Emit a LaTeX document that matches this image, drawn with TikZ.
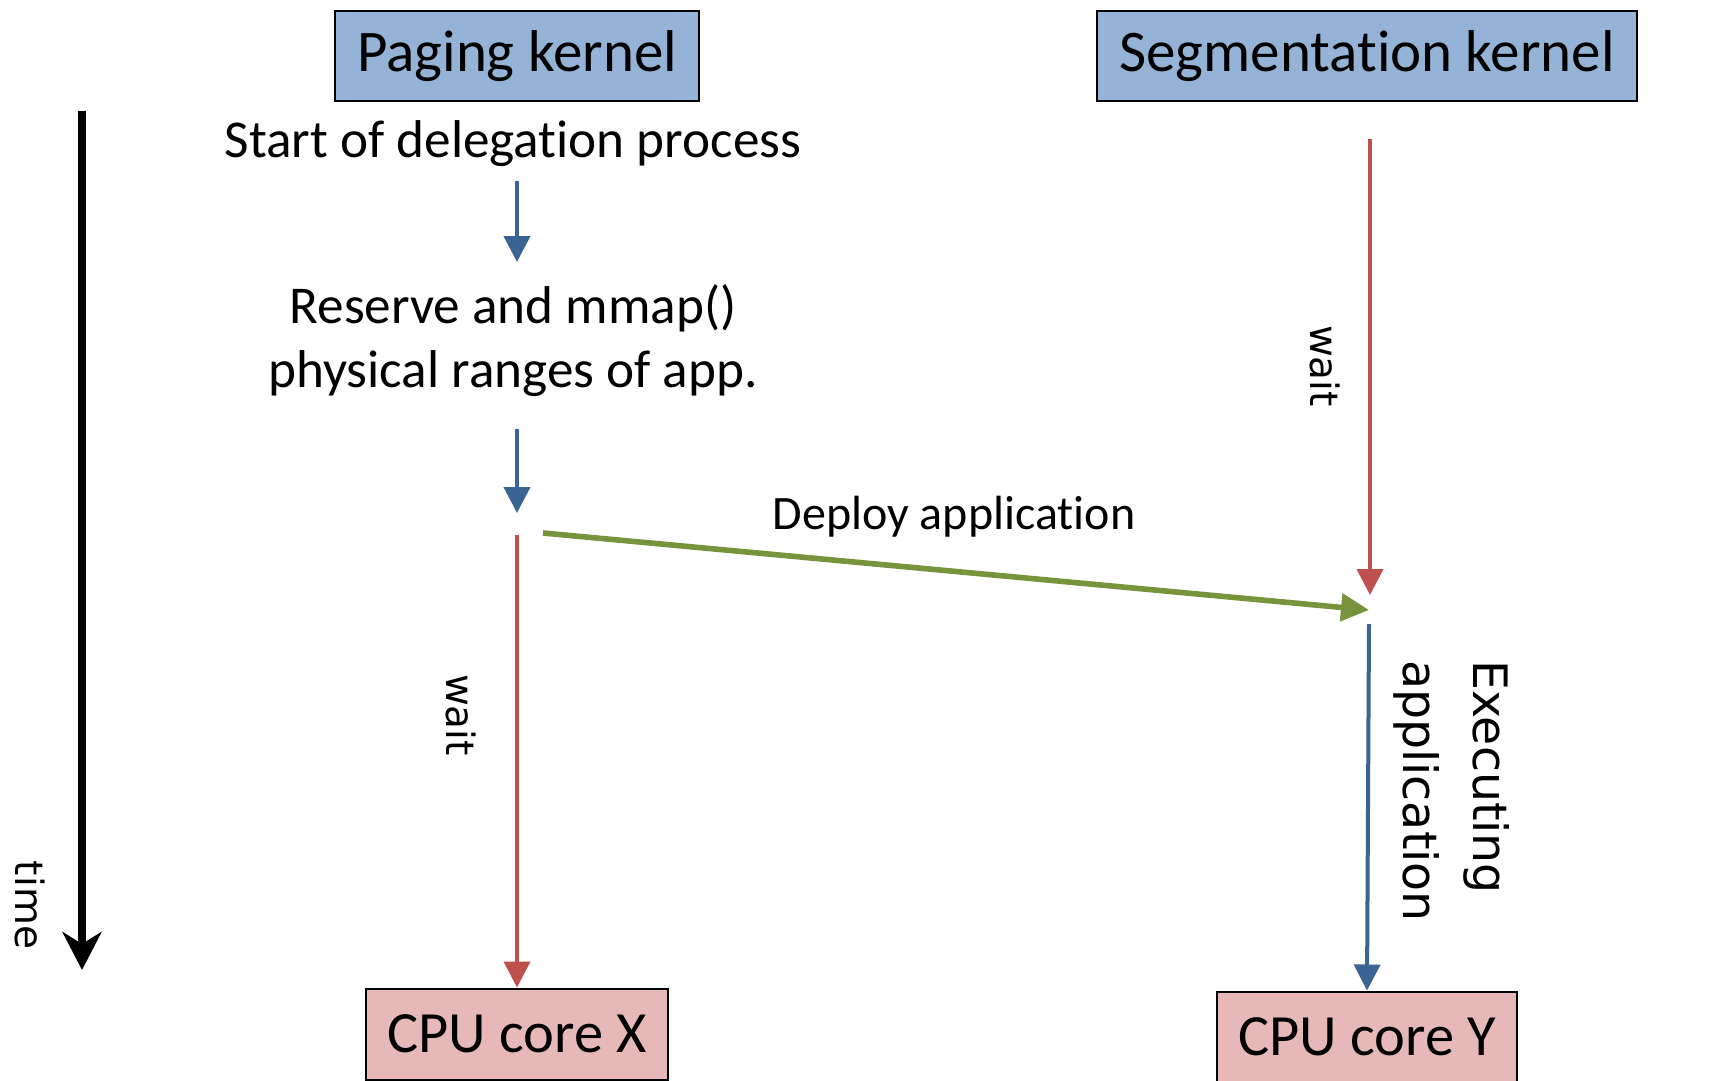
\documentclass[tikz,border=0pt]{standalone}
\usepackage{fontspec}
\setmainfont{Carlito}[Ligatures=NoCommon]
\newfontfamily\sidefont{DejaVu Sans}
\usetikzlibrary{arrows.meta}

\definecolor{kernelblue}{HTML}{95B3D7}
\definecolor{corepink}{HTML}{E6B9B8}
\definecolor{waitred}{HTML}{C0504D}
\definecolor{runblue}{HTML}{3A6494}
\definecolor{deploygreen}{HTML}{77933C}

\tikzset{
	kernel/.style={draw=black, line width=1pt, fill=kernelblue, minimum height=45pt, inner sep=0pt, font=\fontsize{29.5}{34}\selectfont},
	core/.style={draw=black, line width=1pt, fill=corepink, minimum height=45.5pt, minimum width=151pt, inner sep=0pt, font=\fontsize{29.2}{33}\selectfont},
	step text/.style={font=\fontsize{26.6}{32}\selectfont, align=center},
	side label/.style={rotate=-90, font={\fontsize{19.5}{24}\selectfont\sidefont}},
	flow/.style={line width=2pt, -{Triangle[width=13pt,length=13pt]}}
}

\begin{document}
\begin{tikzpicture}[x=0.5pt, y=-0.5pt]
	\useasboundingbox (0,0) rectangle (1736,1081);
	
	% Hai nhân ở trên
	\node[kernel, minimum width=182pt] (paging) at (517,56) {Paging kernel};
	\node[kernel, minimum width=270pt] (segment) at (1367,56) {Segmentation kernel};
	
	% Các bước bên nhân paging
	\node[step text, anchor=base] (start) at (513,157) {Start of delegation process};
	\node[step text] (reserve) at (513,341) {Reserve and mmap()\\physical ranges of app.};
	
	% Các nhân CPU ở dưới
	\node[core] (corex) at (517,1034) {CPU core X};
	\node[core, minimum width=150pt] (corey) at (1367,1037) {CPU core Y};
	
	% Điểm đầu/cuối các mũi tên
	\coordinate (stepA) at (517,181);
	\coordinate (stepB) at (517,262);
	\coordinate (stepC) at (517,429);
	\coordinate (stepD) at (517,513);
	\coordinate (waitX) at (517,535);
	\coordinate (waitY) at (1370,139);
	\coordinate (arriveY) at (1370,595);
	\coordinate (deployA) at (543,533);
	\coordinate (deployB) at (1369,610);
	\coordinate (runY) at (1369,624);
	\coordinate (timeA) at (82,111);
	\coordinate (timeB) at (82,970);
	
	% Trục thời gian
	\draw[line width=3.85pt, -{Stealth[width=19.5pt,length=19pt,inset=6pt]}] (timeA) -- (timeB);
	\node[side label] (time) at (30,905) {time};
	
	% Mũi tên bên trái
	\draw[flow, runblue] (stepA) -- (stepB);
	\draw[flow, runblue] (stepC) -- (stepD);
	\draw[flow, waitred] (waitX) -- (corex.north);
	\node[side label] (waitleft) at (461,715) {wait};
	
	% Mũi tên bên phải
	\draw[flow, waitred] (waitY) -- (arriveY);
	\node[side label] (waitright) at (1325,366) {wait};
	\draw[flow, runblue] (runY) -- (corey.north);
	\node[side label, align=left, font={\fontsize{23.7}{35}\selectfont\sidefont}] (exec) at (1452,791) {Executing\\application};
	
	% Triển khai ứng dụng
	\draw[deploygreen, line width=2.8pt, -{Triangle[width=13.5pt,length=14pt]}] (deployA) -- (deployB);
	\node[anchor=base, font=\fontsize{24}{28}\selectfont] (deploy) at (954,529) {Deploy application};
	
\end{tikzpicture}
\end{document}
